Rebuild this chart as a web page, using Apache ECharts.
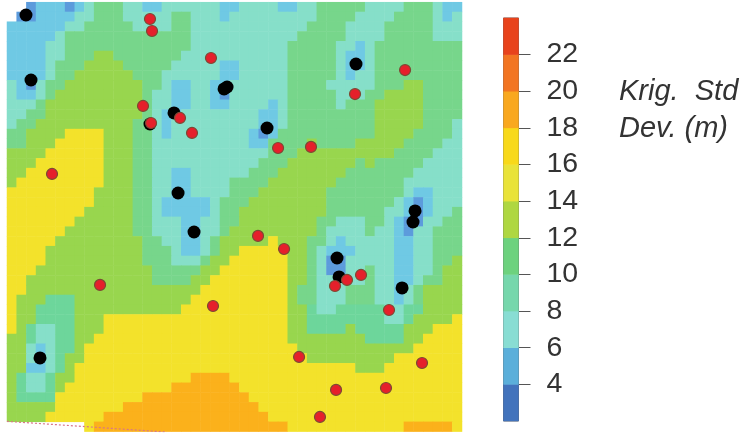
<!DOCTYPE html>
<html><head><meta charset="utf-8">
<style>html,body{margin:0;padding:0;background:#fff}#c{width:742px;height:433px}</style>
<script src="https://cdn.jsdelivr.net/npm/echarts@6/dist/echarts.min.js"></script>
</head><body><div id="c"></div>
<script>
// Kriging std-dev band of each map cell. Each row is a list of runs "band<endColumn" (band 0 = outside the domain).
const bandRows = [
"0<2 1<3 2<6 1<7 2<8 3<9 5<12 3<14 2<16 3<22 2<24 3<28 2<30 3<32 5<37 3<41 5<44 3<45 2<47",
"0<1 1<3 2<7 3<9 5<12 3<17 5<19 3<22 2<23 3<32 5<36 3<40 5<44 3<45 2<46 3<47",
"2<6 3<8 5<13 3<17 5<19 3<31 5<35 3<39 5<44 3<47",
"2<5 3<6 5<19 3<30 5<35 3<39 5<44 3<47",
"2<4 3<6 5<19 3<29 5<34 3<36 2<37 3<38 5<47",
"2<4 3<6 5<9 6<11 5<18 3<29 5<34 3<35 2<37 3<38 5<47",
"2<4 3<5 5<8 6<12 5<17 3<22 2<24 3<29 5<34 3<35 2<37 3<38 5<47",
"2<4 3<5 5<7 6<13 5<16 3<22 2<24 3<29 5<34 3<35 2<36 3<38 5<47",
"3<1 2<2 1<3 3<4 5<6 6<14 5<16 3<17 2<19 3<21 2<23 3<29 5<33 3<38 5<41 6<43 5<47",
"3<1 2<3 3<4 5<5 6<14 5<15 3<17 2<19 3<21 2<22 1<23 3<29 5<34 3<37 5<39 6<43 5<47",
"3<3 5<4 6<14 5<15 3<17 2<19 3<21 2<23 3<27 2<28 3<29 5<34 3<35 5<38 6<43 5<47",
"3<2 5<4 6<14 5<15 3<16 2<18 3<26 2<28 3<29 5<38 6<43 5<47",
"3<1 5<3 6<13 5<15 3<16 2<17 3<26 2<28 3<29 5<38 6<43 5<46 3<47",
"5<2 6<6 7<10 6<13 5<15 3<16 2<17 3<25 2<26 1<27 2<28 5<38 6<42 5<46 3<47",
"5<2 6<5 7<10 6<13 5<15 3<25 2<27 5<31 6<32 5<36 6<41 5<45 3<47",
"6<4 7<10 6<13 5<15 3<27 5<30 6<40 5<44 3<47",
"6<3 7<10 6<13 5<15 3<26 5<29 6<36 5<37 6<38 5<43 3<47",
"6<2 7<10 6<13 5<15 3<17 2<19 3<25 5<28 6<35 5<42 3<47",
"6<1 7<10 6<13 5<15 3<17 2<19 3<23 5<27 6<34 5<41 3<47",
"7<9 6<13 5<15 3<17 2<19 3<23 5<26 6<33 5<41 3<42 2<44 3<47",
"7<9 6<13 5<15 3<16 2<21 3<22 5<25 6<33 5<40 3<41 2<42 1<43 2<44 3<47",
"7<8 6<13 5<15 3<16 2<21 3<22 5<24 6<33 5<39 3<41 2<42 1<43 2<44 3<46 5<47",
"7<7 6<13 5<15 3<18 2<20 3<22 5<24 6<32 5<34 3<37 5<39 3<40 2<41 1<43 3<45 5<47",
"7<6 6<13 5<15 3<18 2<20 3<22 5<23 6<32 5<33 3<37 5<38 3<40 2<41 1<42 3<44 5<47",
"7<5 6<14 5<16 3<18 2<20 3<21 5<22 6<27 7<28 6<31 5<33 3<34 2<35 3<40 2<42 3<44 5<47",
"7<4 6<14 5<17 3<18 2<20 3<21 5<22 6<24 7<29 6<31 5<32 3<33 2<36 3<40 2<42 3<44 5<47",
"7<4 6<14 5<17 3<20 5<21 6<23 7<29 6<31 5<32 3<33 1<35 3<40 2<42 3<44 5<46 6<47",
"7<3 6<15 5<20 6<22 7<29 6<31 5<32 3<33 1<35 3<37 5<38 3<40 2<42 3<44 5<45 6<47",
"7<2 6<15 5<19 6<21 7<29 6<31 5<32 3<37 5<38 3<40 2<42 3<43 5<45 6<47",
"7<2 6<20 7<29 6<30 5<32 3<35 5<38 3<40 2<41 3<42 5<43 6<47",
"7<1 6<4 4<7 6<19 7<29 6<30 5<32 3<35 5<38 3<40 2<41 3<42 5<43 6<47",
"7<1 6<3 4<7 6<18 7<29 6<31 4<32 3<34 4<39 3<41 4<43 6<47",
"7<1 6<3 4<7 6<10 7<29 6<31 4<39 3<41 4<42 6<46 7<47",
"7<1 6<2 4<3 3<5 4<7 6<10 7<29 6<31 4<35 6<36 4<41 6<44 7<47",
"6<2 4<3 3<5 4<7 6<9 7<29 6<37 4<41 6<43 7<47",
"6<2 3<3 2<4 3<5 4<7 6<8 7<30 6<42 7<47",
"6<2 3<3 2<4 3<5 4<6 6<8 7<31 6<40 7<47",
"6<2 2<4 3<5 4<6 6<7 7<36 6<39 7<47",
"6<1 4<2 3<4 4<5 6<7 7<19 9<23 7<47",
"6<1 4<2 3<4 4<5 6<6 7<17 9<24 7<47",
"6<1 4<5 7<14 9<25 7<47",
"6<5 7<12 9<26 7<47",
"6<4 7<10 9<27 7<47",
"0<8 7<9 9<29 7<41 9<46 7<47"
];
const colCount = 47;
const bandMid = [null, 3, 5, 7, 9, 11, 13, 15, 17, 19];
// Sampling sites, in map-cell units (east, south)
const blackEast  = [1.96,2.48,17.25,22.73,22.42,26.86,17.67,19.32,36.05,42.15,41.94,34.09,34.30,40.81,3.41,14.77];
const blackSouth = [1.31,7.97,11.35,8.69,8.89,12.89,19.55,23.55,6.33,21.39,22.52,26.21,28.15,29.28,36.45,12.48];
const redEast  = [14.77,14.98,21.07,41.12,35.95,14.05,17.87,14.88,19.11,28.0,31.4,4.65,25.93,28.62,9.61,21.28,36.57,35.12,33.88,39.46,30.17,42.87,33.99,39.15,32.33];
const redSouth = [1.72,2.95,5.72,6.95,9.41,10.63,11.86,12.38,13.40,14.94,14.83,17.60,23.95,25.29,28.97,31.13,27.95,28.46,29.08,31.54,36.35,36.97,39.73,39.53,42.50];
// Domain edge along the bottom-left
const edgeEast  = [0, 16.5];
const edgeSouth = [42.95, 44.05];
// Colour scale
const scaleTicks = [4,6,8,10,12,14,16,18,20,22];
const scaleBands = [3,5,7,9,11,13,15,17,19,21,23];
const scaleColors = ['#4273BC','#5BAFDA','#88DDD3','#76D7AC','#6DD27E','#AFD741','#E9E339','#F8D91A','#F9A81F','#F27522','#E8431C'];
const mapColors = ['#5C9BDC','#6FC9E4','#86DFC9','#6DD69B','#77D68B','#98D64E','#F3E22B','#F7DF1F','#FBB11B','#F27522','#E8431C'];

const cells = [];
bandRows.forEach((row, r) => {
  let start = 0;
  row.split(' ').forEach(run => {
    const [b, end] = run.split('<').map(Number);
    for (let c = start; c < end; c++) if (b) cells.push([c, r, bandMid[b]]);
    start = end;
  });
});
const cols = Array.from({length: colCount}, (_, i) => i);
const rowIdx = bandRows.map((_, i) => i);
const zip = (a, b) => a.map((v, i) => [v, b[i]]);
const pieces = cols2 => scaleBands.map((v, i) => ({min: v - 1, max: v + 1, color: cols2[i]}));

const chart = echarts.init(document.getElementById('c'), null, {renderer: 'canvas'});
chart.setOption({
  animation: false,
  backgroundColor: '#fff',
  title: {
    text: 'Krig.  Std\nDev. (m)', left: 614, top: 68,
    textStyle: {fontFamily: 'Liberation Sans', fontStyle: 'italic', fontWeight: 'normal', fontSize: 29, lineHeight: 37, color: '#333'}
  },
  grid: [
    {left: 7, top: 2.2, width: 455, height: 429.4},
    {left: 503.5, top: 18, width: 15, height: 403, show: true, borderColor: '#666', borderWidth: 1, backgroundColor: 'transparent'}
  ],
  xAxis: [
    {type: 'category', gridIndex: 0, data: cols, show: false},
    {type: 'value', gridIndex: 0, min: 0, max: colCount, show: false},
    {type: 'category', gridIndex: 1, data: ['scale'], show: false}
  ],
  yAxis: [
    {type: 'category', gridIndex: 0, data: rowIdx, inverse: true, show: false},
    {type: 'value', gridIndex: 0, min: 0, max: bandRows.length, inverse: true, show: false},
    {type: 'category', gridIndex: 1, data: scaleBands, show: false},
    {type: 'value', gridIndex: 1, min: 2, max: 24, position: 'right',
      axisLine: {show: false}, splitLine: {show: false},
      axisTick: {show: true, length: 12, customValues: scaleTicks, lineStyle: {color: '#555', width: 1}},
      axisLabel: {customValues: scaleTicks, align: 'left', margin: 28, fontFamily: 'Liberation Sans', fontSize: 28.5, color: '#333'}}
  ],
  visualMap: [
    {show: false, type: 'piecewise', seriesIndex: 0, dimension: 2, pieces: pieces(mapColors)},
    {show: false, type: 'piecewise', seriesIndex: 4, dimension: 2, pieces: pieces(scaleColors)}
  ],
  graphic: [{type: 'rect', shape: {x: 0, y: 0, width: 480, height: 4}, style: {fill: '#fff'}, z: 1}],
  series: [
    {type: 'heatmap', xAxisIndex: 0, yAxisIndex: 0, data: cells, itemStyle: {borderWidth: 0}, emphasis: {disabled: true}, progressive: 0},
    {type: 'line', xAxisIndex: 1, yAxisIndex: 1, data: zip(edgeEast, edgeSouth), symbol: 'none', z: 3,
      lineStyle: {type: [2, 2], width: 1.2, color: '#D9768A'}},
    {type: 'scatter', xAxisIndex: 1, yAxisIndex: 1, data: zip(blackEast, blackSouth), symbolSize: 13, z: 4,
      itemStyle: {color: '#000', opacity: 1}},
    {type: 'scatter', xAxisIndex: 1, yAxisIndex: 1, data: zip(redEast, redSouth), symbolSize: 11, z: 5,
      itemStyle: {color: '#E5202B', borderColor: '#7C4A34', borderWidth: 1.2, opacity: 1}},
    {type: 'heatmap', xAxisIndex: 2, yAxisIndex: 2, data: scaleBands.map((v, i) => [0, i, v]), itemStyle: {borderWidth: 0}, emphasis: {disabled: true}}
  ]
});
</script></body></html>
